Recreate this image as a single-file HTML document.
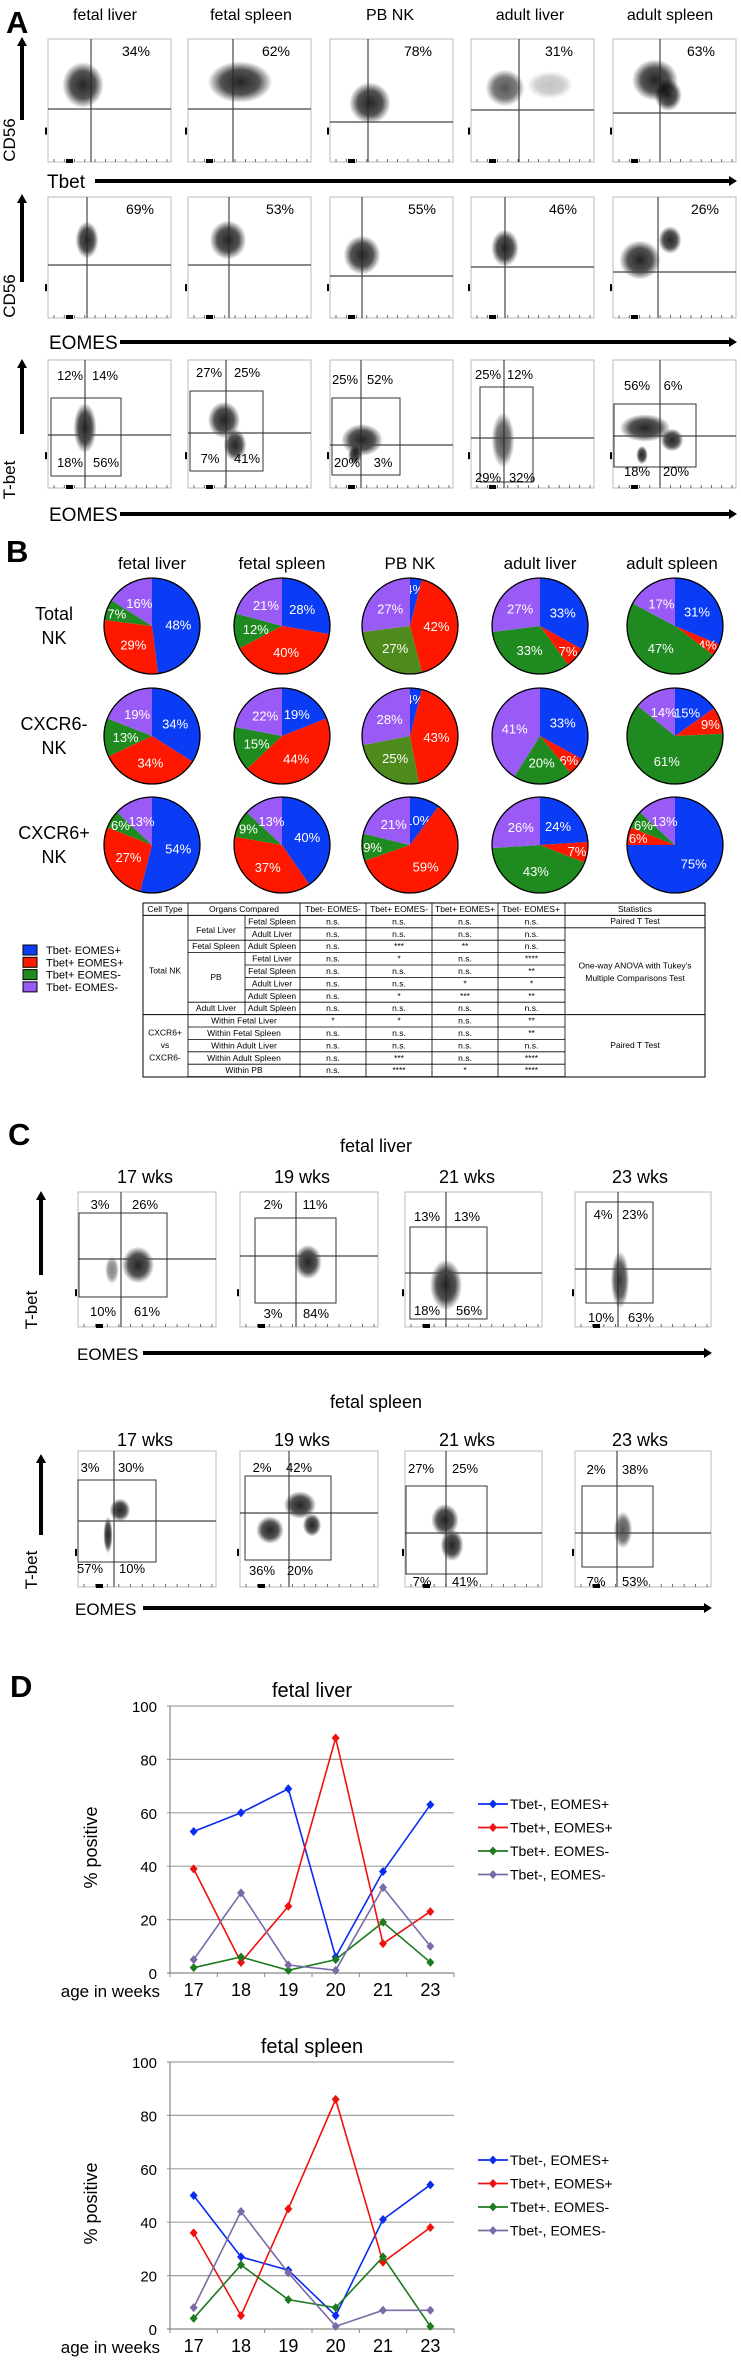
<!DOCTYPE html>
<html><head><meta charset="utf-8">
<style>
html,body{margin:0;padding:0;background:#fff;}
svg{display:block;font-family:"Liberation Sans",sans-serif;}
</style></head>
<body>
<svg id="fig" width="741" height="2362" viewBox="0 0 741 2362" xmlns="http://www.w3.org/2000/svg">
<defs>
<radialGradient id="cloud"><stop offset="0" stop-color="#000" stop-opacity="0.95"/><stop offset="0.6" stop-color="#000" stop-opacity="0.75"/><stop offset="1" stop-color="#000" stop-opacity="0"/></radialGradient>
</defs>
<g id="root"></g>
</svg>
<script>
// ---------- Data: panel B pies (blue, red, green, purple) ----------
const pieOrgans = ["fetal liver","fetal spleen","PB NK","adult liver","adult spleen"];
const pieRows = ["Total NK","CXCR6- NK","CXCR6+ NK"];
const pieTotal = [[48,29,7,16],[28,40,12,21],[4,42,27,27],[33,7,33,27],[31,4,47,17]];
const pieCxcr6Neg = [[34,34,13,19],[19,44,15,22],[4,43,25,28],[33,6,20,41],[15,9,61,14]];
const pieCxcr6Pos = [[54,27,6,13],[40,37,9,13],[10,59,9,21],[24,7,43,26],[75,6,6,13]];
// ---------- Data: panel D ----------
const weeks = ["17","18","19","20","21","23"];
const seriesNames = ["Tbet-, EOMES+","Tbet+, EOMES+","Tbet+. EOMES-","Tbet-, EOMES-"];
const liverBlue = [53,60,69,6,38,63];
const liverRed = [39,4,25,88,11,23];
const liverGreen = [2,6,1,5,19,4];
const liverPurple = [5,30,3,1,32,10];
const spleenBlue = [50,27,22,5,41,54];
const spleenRed = [36,5,45,86,25,38];
const spleenGreen = [4,24,11,8,27,1];
const spleenPurple = [8,44,21,1,7,7];
const yTicks = [0,20,40,60,80,100];

const NS="http://www.w3.org/2000/svg";
const root=document.getElementById('root');
function el(tag,attrs,parent,text){const e=document.createElementNS(NS,tag);for(const k in attrs)e.setAttribute(k,attrs[k]);if(text!==undefined)e.textContent=text;(parent||root).appendChild(e);return e;}
function txt(x,y,s,size,opts,parent){opts=opts||{};const a={x:x,y:y,'font-size':size,fill:opts.fill||'#000','text-anchor':opts.anchor||'start'};if(opts.weight)a['font-weight']=opts.weight;if(opts.transform)a.transform=opts.transform;const t=el('text',a,parent,s);return t;}

[["A",6,33],["B",6,562],["C",8,1145],["D",10,1697]].forEach(l=>{const t=txt(l[1],l[2],l[0],31,{weight:'bold'});

});

function flow(name,x,y,w,h,vx,hy,gate,labels,clouds){
  const g=el('g',{});
  
  
  el('rect',{x:x,y:y,width:w,height:h,fill:'#fff',stroke:'#bbb','stroke-width':1},g);
  clouds.forEach(c=>el('ellipse',{cx:c[0],cy:c[1],rx:c[2]*1.15,ry:c[3]*1.15,fill:'url(#cloud)',opacity:c[4]||0.9},g));
  el('line',{x1:vx,y1:y,x2:vx,y2:y+h,stroke:'#222','stroke-width':1},g);
  el('line',{x1:x,y1:hy,x2:x+w,y2:hy,stroke:'#444','stroke-width':1.3},g);
  if(gate)el('rect',{x:gate[0],y:gate[1],width:gate[2]-gate[0],height:gate[3]-gate[1],fill:'none',stroke:'#333','stroke-width':1},g);
  for(let i=0;i<12;i++)el('line',{x1:x+6+i*(w-10)/11,y1:y+h,x2:x+6+i*(w-10)/11,y2:y+h-3,stroke:'#333','stroke-width':0.7},g);
  el('rect',{x:x+18,y:y+h-3,width:7,height:4,fill:'#000'},g);
  el('rect',{x:x-3,y:y+h*0.72,width:2,height:7,fill:'#000'},g);
  labels.forEach(l=>txt(l[0],l[1],l[2],l[3]||13,{anchor:'middle'},g));
  return g;
}

const colX=[48,188,330,471,613];
const colC=[105,251,390,530,670];
pieOrgans.forEach((o,i)=>{const t=txt(colC[i],20,o,16,{anchor:'middle'});

});

const r1v=[91,233,368,519,660], r1h=[109,109,122,110,113], r1p=["34%","62%","78%","31%","63%"];
const r1c=[[[83,85,18,20]],[[240,82,28,18]],[[370,103,18,18]],[[505,88,17,16,0.7],[550,85,20,12,0.25]],[[655,80,20,18],[668,95,12,14]]];
for(let i=0;i<5;i++){flow('flow-plot-cd56-tbet',colX[i],39,123,123,r1v[i],r1h[i],null,[[colX[i]+88,56,r1p[i],14]],r1c[i]);}
const r2v=[87,229,362,505,658], r2h=[265,265,276,267,272], r2p=["69%","53%","55%","46%","26%"];
const r2c=[[[87,240,10,16]],[[228,240,16,17]],[[362,255,16,17]],[[505,248,12,16]],[[640,260,18,17],[670,240,10,12]]];
for(let i=0;i<5;i++){flow('flow-plot-cd56-eomes',colX[i],197,123,121,r2v[i],r2h[i],null,[[colX[i]+92,214,r2p[i],14]],r2c[i]);}
const r3v=[85,226,361,504,660], r3h=[435,433,445,438,436];
const r3g=[[51,398,121,476],[190,391,263,471],[332,398,400,475],[480,387,533,482],[614,404,696,467]];
const r3l=[[[70,380,"12%"],[105,380,"14%"],[70,467,"18%"],[106,467,"56%"]],[[209,377,"27%"],[247,377,"25%"],[210,463,"7%"],[247,463,"41%"]],[[345,384,"25%"],[380,384,"52%"],[347,467,"20%"],[383,467,"3%"]],[[488,379,"25%"],[520,379,"12%"],[488,482,"29%"],[522,482,"32%"]],[[637,390,"56%"],[673,390,"6%"],[637,476,"18%"],[676,476,"20%"]]];
const r3c=[[[85,428,10,22]],[[224,420,14,16],[235,445,10,14]],[[362,440,18,14],[355,455,6,8]],[[503,440,10,24,0.7]],[[645,428,22,12],[672,440,10,10],[642,455,5,8]]];
for(let i=0;i<5;i++){flow('flow-plot-tbet-eomes',colX[i],360,123,128,r3v[i],r3h[i],r3g[i],r3l[i],r3c[i]);}

function harrow(name,x1,x2,y,label,lx,size){
  const g=el('g',{});
  el('line',{x1:x1,y1:y,x2:x2-6,y2:y,stroke:'#000','stroke-width':4},g);
  el('path',{d:`M${x2-8},${y-5} L${x2},${y} L${x2-8},${y+5} z`,fill:'#000'},g);
  txt(lx,y+7,label,size||19,{},g);
}
harrow('tbet-axis-arrow',95,737,181,'Tbet',47);
harrow('eomes-axis-arrow-row2',120,737,342,'EOMES',49);
harrow('eomes-axis-arrow-row3',120,737,514,'EOMES',49);
(function(){const g=el('g',{});
el('line',{x1:22,y1:44,x2:22,y2:120,stroke:'#000','stroke-width':4},g);el('path',{d:'M17,46 L22,37 L27,46 z',fill:'#000'},g);
txt(15,140,'CD56',17,{anchor:'middle',transform:'rotate(-90 15 140)'},g);})();
(function(){const g=el('g',{});
el('line',{x1:22,y1:201,x2:22,y2:282,stroke:'#000','stroke-width':4},g);el('path',{d:'M17,203 L22,194 L27,203 z',fill:'#000'},g);
txt(15,296,'CD56',17,{anchor:'middle',transform:'rotate(-90 15 296)'},g);})();
(function(){const g=el('g',{});
el('line',{x1:22,y1:366,x2:22,y2:434,stroke:'#000','stroke-width':4},g);el('path',{d:'M17,368 L22,359 L27,368 z',fill:'#000'},g);
txt(15,480,'T-bet',17,{anchor:'middle',transform:'rotate(-90 15 480)'},g);})();

// ---------- Panel B pies ----------
const pieCx=[152,282,410,540,675], pieCy=[626,736,845], pieR=48;
const pieColors=["#0b3cf5","#ff1800","#1f8a1f","#9a5af5"];
const pieData=[pieTotal,pieCxcr6Neg,pieCxcr6Pos];
const colTitles=[152,282,410,540,672];
pieOrgans.forEach((o,i)=>{const t=txt(colTitles[i],569,o,17,{anchor:'middle'});

});
const rowLab=[["Total","NK"],["CXCR6-","NK"],["CXCR6+","NK"]];
rowLab.forEach((r,j)=>{const g=el('g',{});
txt(54,pieCy[j]-6,r[0],18,{anchor:'middle'},g);txt(54,pieCy[j]+18,r[1],18,{anchor:'middle'},g);});
pieData.forEach((row,j)=>row.forEach((vals,i)=>{
  const g=el('g',{});
  const tot=vals.reduce((a,b)=>a+b,0);let a0=0;const cx=pieCx[i],cy=pieCy[j];
  vals.forEach((v,k)=>{const a1=a0+v/tot*2*Math.PI;
    const x0=cx+pieR*Math.sin(a0),y0=cy-pieR*Math.cos(a0),x1=cx+pieR*Math.sin(a1),y1=cy-pieR*Math.cos(a1);
    const large=(a1-a0)>Math.PI?1:0;
    let col=pieColors[k]; if(i===2&&k===2&&j<2)col="#4f8a1c";
    const p=el('path',{d:`M${cx},${cy} L${x0},${y0} A${pieR},${pieR} 0 ${large} 1 ${x1},${y1} z`,fill:col},g);
    
    
    const am=(a0+a1)/2, rr=v<10?pieR*0.78:pieR*0.55;
    txt(cx+rr*Math.sin(am),cy-rr*Math.cos(am)+5,v+'%',13,{anchor:'middle',fill:'#fff'},g);
    a0=a1;});
  el('circle',{cx:cx,cy:cy,r:pieR,fill:'none',stroke:'#000','stroke-width':1.3},g);
}));
const legB=["Tbet- EOMES+","Tbet+ EOMES+","Tbet+ EOMES-","Tbet- EOMES-"];
legB.forEach((s,k)=>{const g=el('g',{});
el('rect',{x:23,y:945+k*12.3,width:14,height:10,fill:pieColors[k],stroke:'#000','stroke-width':1},g);
txt(46,954+k*12.3,s,11,{},g);});

// ---------- Table ----------
(function(){
const g=el('g',{});
const cx=[143,188,245,300,366,432,498,565,705];
const top=903, rh=12.4;
const bot=1077;
el('rect',{x:143,y:top,width:562,height:bot-top,fill:'#fff',stroke:'#000','stroke-width':1},g);
const fs=8.5;
const hdr=[["Cell Type",165],["Organs Compared",244],["Tbet- EOMES-",333],["Tbet+ EOMES-",399],["Tbet+ EOMES+",465],["Tbet- EOMES+",531],["Statistics",635]];
hdr.forEach(h=>txt(h[1],top+9,h[0],fs,{anchor:'middle'},g));
el('line',{x1:143,y1:top+rh,x2:705,y2:top+rh,stroke:'#000'},g);
[188,300,366,432,498,565].forEach(x=>el('line',{x1:x,y1:top,x2:x,y2:bot,stroke:'#000','stroke-width':0.8},g));
const body=[
 ["Fetal Spleen","n.s.","n.s.","n.s.","n.s."],["Adult Liver","n.s.","n.s.","n.s.","n.s."],["Adult Spleen","n.s.","***","**","n.s."],
 ["Fetal Liver","n.s.","*","n.s.","****"],["Fetal Spleen","n.s.","n.s.","n.s.","**"],["Adult Liver","n.s.","n.s.","*","*"],["Adult Spleen","n.s.","*","***","**"],["Adult Spleen","n.s.","n.s.","n.s.","n.s."],
 ["Within Fetal Liver","*","*","n.s.","**"],["Within Fetal Spleen","n.s.","n.s.","n.s.","**"],["Within Adult Liver","n.s.","n.s.","n.s.","n.s."],["Within Adult Spleen","n.s.","***","n.s.","****"],["Within PB","n.s.","****","*","****"]];
const inner=[0,3,4,5];
body.forEach((r,i)=>{const y=top+rh*(i+1);const yy=y+9;
  if(i<8){txt(272,yy,r[0],fs,{anchor:'middle'},g);}else{txt(244,yy,r[0],fs,{anchor:'middle'},g);}
  for(let c=1;c<5;c++)txt((cx[c+2]+cx[c+3])/2,yy,r[c],fs,{anchor:'middle'},g);
  el('line',{x1:inner.indexOf(i)>=0?245:188,y1:y+rh,x2:565,y2:y+rh,stroke:'#000','stroke-width':0.8},g);
});
el('line',{x1:143,y1:top+rh*9,x2:705,y2:top+rh*9,stroke:'#000'},g);
el('line',{x1:565,y1:top+rh*2,x2:705,y2:top+rh*2,stroke:'#000','stroke-width':0.8},g);
el('line',{x1:245,y1:top+rh,x2:245,y2:top+rh*9,stroke:'#000','stroke-width':0.8},g);
txt(216,top+rh*2.4,"Fetal Liver",fs,{anchor:'middle'},g);
txt(216,top+rh*3.7,"Fetal Spleen",fs,{anchor:'middle'},g);
txt(216,top+rh*6.2,"PB",fs,{anchor:'middle'},g);
txt(216,top+rh*8.7,"Adult Liver",fs,{anchor:'middle'},g);
txt(165,top+rh*5.7,"Total NK",fs,{anchor:'middle'},g);
txt(165,top+rh*10.7,"CXCR6+",fs,{anchor:'middle'},g);
txt(165,top+rh*11.7,"vs",fs,{anchor:'middle'},g);
txt(165,top+rh*12.7,"CXCR6-",fs,{anchor:'middle'},g);
txt(635,top+rh*1.7,"Paired T Test",fs,{anchor:'middle'},g);
txt(635,top+rh*5.3,"One-way ANOVA with Tukey's",fs,{anchor:'middle'},g);
txt(635,top+rh*6.3,"Multiple Comparisons Test",fs,{anchor:'middle'},g);
txt(635,top+rh*11.7,"Paired T Test",fs,{anchor:'middle'},g);
})();

// ---------- Panel C ----------
const cTitle1=txt(376,1152,"fetal liver",18,{anchor:'middle'});


const cTitle2=txt(376,1408,"fetal spleen",18,{anchor:'middle'});


const wkLabels=["17 wks","19 wks","21 wks","23 wks"], wkX=[145,302,467,640];
wkLabels.forEach((w,i)=>{const a=txt(wkX[i],1183,w,18,{anchor:'middle'});


const b=txt(wkX[i],1446,w,18,{anchor:'middle'});

});
const cX=[[78,216],[240,378],[405,542],[575,711]];
const cl1={v:[121,296,446,618],h:[1259,1256,1273,1269],
 g:[[79,1213,167,1297],[255,1218,336,1303],[410,1227,487,1319],[586,1202,653,1303]],
 l:[[[100,1209,"3%"],[145,1209,"26%"],[103,1316,"10%"],[147,1316,"61%"]],[[273,1209,"2%"],[315,1209,"11%"],[273,1318,"3%"],[316,1318,"84%"]],[[427,1221,"13%"],[467,1221,"13%"],[427,1315,"18%"],[469,1315,"56%"]],[[603,1219,"4%"],[635,1219,"23%"],[601,1322,"10%"],[641,1322,"63%"]]],
 c:[[[138,1265,14,16],[112,1270,6,12,0.5]],[[308,1262,12,15]],[[446,1285,14,22]],[[620,1280,8,25,0.8]]]};
for(let i=0;i<4;i++)flow('flow-plot-fetal-liver',cX[i][0],1192,cX[i][1]-cX[i][0],135,cl1.v[i],cl1.h[i],cl1.g[i],cl1.l[i],cl1.c[i]);
const cl2={v:[114,289,446,617],h:[1521,1513,1533,1533],
 g:[[78,1480,156,1562],[245,1476,331,1560],[406,1486,487,1574],[582,1486,653,1567]],
 l:[[[90,1472,"3%"],[131,1472,"30%"],[90,1573,"57%"],[132,1573,"10%"]],[[262,1472,"2%"],[299,1472,"42%"],[262,1575,"36%"],[300,1575,"20%"]],[[421,1473,"27%"],[465,1473,"25%"],[422,1586,"7%"],[465,1586,"41%"]],[[596,1474,"2%"],[635,1474,"38%"],[596,1586,"7%"],[635,1586,"53%"]]],
 c:[[[120,1510,9,10],[108,1535,4,16]],[[300,1505,14,12],[270,1530,12,12],[312,1525,8,10]],[[445,1520,12,14],[452,1545,10,14]],[[623,1530,8,16,0.7]]]};
for(let i=0;i<4;i++)flow('flow-plot-fetal-spleen',cX[i][0],1451,cX[i][1]-cX[i][0],136,cl2.v[i],cl2.h[i],cl2.g[i],cl2.l[i],cl2.c[i]);
harrow('eomes-axis-arrow-c1',143,712,1353,'EOMES',77,17);
harrow('eomes-axis-arrow-c2',143,712,1608,'EOMES',75,17);
(function(){[[1192,1275,1310],[1455,1535,1570]].forEach(a=>{const g=el('g',{});
el('line',{x1:41,y1:a[0]+6,x2:41,y2:a[1],stroke:'#000','stroke-width':4},g);el('path',{d:`M36,${a[0]+8} L41,${a[0]-1} L46,${a[0]+8} z`,fill:'#000'},g);
txt(37,a[2],'T-bet',17,{anchor:'middle',transform:`rotate(-90 37 ${a[2]})`},g);});})();

// ---------- Panel D line charts ----------
const lineColors=["#0a2cf0","#f01010","#1e7a1e","#7a6aa8"];
function lineChart(name,title,y0,series,legendY){
  const g=el('g',{});
  const left=170,right=454,top=y0,bottom=y0+267;
  const ys=v=>bottom-(v/100)*(bottom-top);
  const step=(right-left)/weeks.length;
  const xs=i=>left+step*(i+0.5);
  const tt=txt((left+right)/2,top-9,title,20,{anchor:'middle'},g);
  
  
  yTicks.forEach(t=>{el('line',{x1:left-3,y1:ys(t),x2:right,y2:ys(t),stroke:t===0?'#888':'#a0a0a0','stroke-width':1.2},g);
    txt(left-13,ys(t)+6,String(t),15,{anchor:'end'},g);});
  el('line',{x1:left,y1:top,x2:left,y2:bottom,stroke:'#888','stroke-width':1.2},g);
  for(let i=0;i<=weeks.length;i++)el('line',{x1:left+step*i,y1:bottom,x2:left+step*i,y2:bottom+4,stroke:'#888'},g);
  weeks.forEach((w,i)=>txt(xs(i),bottom+23,w,18,{anchor:'middle'},g));
  txt(160,bottom+24,"age in weeks",17,{anchor:'end'},g);
  const yl=(top+bottom)/2+8;
  txt(97,yl,"% positive",18,{anchor:'middle',transform:`rotate(-90 97 ${yl})`},g);
  series.forEach((s,k)=>{
    const pl=el('polyline',{points:s.map((v,i)=>xs(i)+','+ys(v)).join(' '),fill:'none',stroke:lineColors[k],'stroke-width':1.6},g);
    
    
    s.forEach((v,i)=>{const m=el('path',{d:`M${xs(i)},${ys(v)-4.5} l4,4.5 l-4,4.5 l-4,-4.5 z`,fill:lineColors[k]},g);
      
      });
  });
  seriesNames.forEach((n,k)=>{const ly=legendY+k*23.5;const lg=el('g',{},g);
    
    
    el('line',{x1:478,y1:ly,x2:508,y2:ly,stroke:lineColors[k],'stroke-width':1.8},lg);
    el('path',{d:`M493,${ly-4.5} l4,4.5 l-4,4.5 l-4,-4.5 z`,fill:lineColors[k]},lg);
    txt(510,ly+5,n,14,{},lg);});
}
lineChart('fetal-liver-line-chart','fetal liver',1706,[liverBlue,liverRed,liverGreen,liverPurple],1804);
lineChart('fetal-spleen-line-chart','fetal spleen',2062,[spleenBlue,spleenRed,spleenGreen,spleenPurple],2160);
</script>
</body></html>
